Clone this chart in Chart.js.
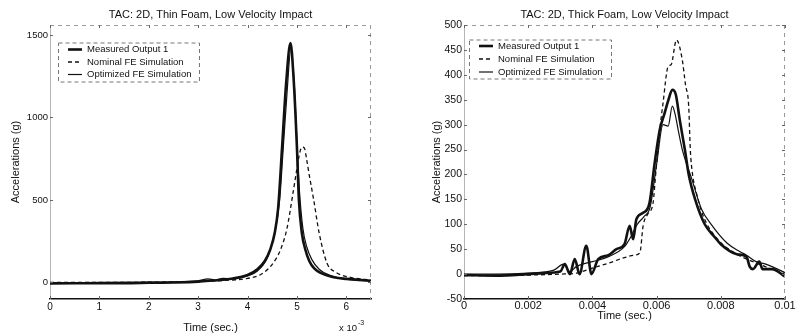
<!DOCTYPE html>
<html>
<head>
<meta charset="utf-8">
<script src="https://cdn.jsdelivr.net/npm/chart.js@4.4.0/dist/chart.umd.min.js"></script>
<style>
  html, body { margin: 0; padding: 0; background: #fff; }
  #wrap { position: relative; width: 796px; height: 336px; }
  .panel { position: absolute; top: 0; width: 398px; height: 336px; }
</style>
</head>
<body>
<div id="wrap">
  <div class="panel" style="left:0"><canvas id="thin"></canvas></div>
  <div class="panel" style="left:398px"><canvas id="thick"></canvas></div>
</div>
<script>
const FONT = "'Liberation Sans', Arial, Helvetica, sans-serif";
const INK = '#111';

// Series names
const seriesNames = ['Measured Output 1', 'Nominal FE Simulation', 'Optimized FE Simulation'];

// Thin foam (left), time in seconds
const thinMeasuredT = [0, 0.0005, 0.001, 0.0015, 0.002, 0.0025, 0.003, 0.0033, 0.0036, 0.004, 0.0042, 0.00435, 0.00446, 0.00455, 0.00462, 0.0047, 0.00478, 0.00487, 0.00493, 0.005, 0.00504, 0.0051, 0.00517, 0.00525, 0.00535, 0.00548, 0.0057, 0.006, 0.0063, 0.0065];
const thinMeasured  = [-6, -5, -4, -4, -2, 0, 5, 12, 20, 45, 80, 130, 200, 300, 450, 820, 1200, 1450, 1250, 820, 500, 300, 200, 130, 85, 58, 35, 22, 15, 10];
const thinNominalT  = [0, 0.001, 0.002, 0.003, 0.0035, 0.004, 0.00426, 0.0045, 0.00467, 0.0048, 0.00493, 0.005, 0.00506, 0.0051, 0.00515, 0.0052, 0.00525, 0.00534, 0.00545, 0.00561, 0.0058, 0.0061, 0.0065];
const thinNominal   = [0, 0, 2, 6, 12, 25, 47, 110, 200, 330, 560, 690, 790, 820, 815, 740, 650, 500, 300, 117, 60, 30, 15];
const thinOptimT    = [0, 0.001, 0.002, 0.0025, 0.003, 0.0032, 0.00335, 0.0035, 0.0037, 0.004, 0.0042, 0.0044, 0.00455, 0.00465, 0.00472, 0.0048, 0.00488, 0.00495, 0.005, 0.00505, 0.00512, 0.0052, 0.0053, 0.00545, 0.0057, 0.006, 0.0065];
const thinOptimized = [0, 0, 2, 4, 10, 22, 15, 25, 22, 40, 70, 150, 300, 500, 800, 1150, 1420, 1180, 850, 560, 330, 215, 140, 80, 40, 20, 8];
const thinXTicks = [0, 0.001, 0.002, 0.003, 0.004, 0.005, 0.006];
const thinYTicks = [0, 500, 1000, 1500];

// Thick foam (right), time in seconds
const thickMeasuredT = [0, 0.001, 0.002, 0.0025, 0.003, 0.00314, 0.0033, 0.00345, 0.0036, 0.00381, 0.00397, 0.00418, 0.0045, 0.00475, 0.005, 0.00516, 0.00527, 0.00537, 0.00558, 0.00578, 0.00594, 0.0061, 0.00625, 0.00637, 0.00649, 0.0066, 0.00672, 0.00688, 0.007, 0.0072, 0.0075, 0.0078, 0.008, 0.0085, 0.0088, 0.0089, 0.009, 0.0092, 0.0093, 0.0096, 0.01];
const thickMeasured  = [-2, -3, 0, 2, 5, 20, 0, 30, 0, 57, 0, 30, 38, 50, 60, 97, 70, 110, 123, 143, 223, 290, 323, 350, 370, 360, 310, 250, 200, 150, 100, 75, 60, 40, 35, 15, 10, 25, 10, 10, -5];
const thickNominalT  = [0, 0.001, 0.002, 0.003, 0.0035, 0.004, 0.0045, 0.005, 0.0053, 0.00548, 0.00558, 0.00572, 0.00589, 0.00597, 0.00604, 0.0061, 0.0062, 0.00636, 0.00645, 0.00662, 0.0068, 0.0069, 0.007, 0.00705, 0.00712, 0.00724, 0.00745, 0.0079, 0.0085, 0.009, 0.0095, 0.01];
const thickNominal   = [-3, -3, -2, 0, 2, 12, 22, 33, 38, 43, 97, 120, 143, 200, 250, 290, 343, 417, 420, 470, 430, 380, 337, 250, 200, 163, 117, 70, 40, 25, 12, 0];
const thickOptimT    = [0, 0.001, 0.002, 0.0028, 0.0031, 0.0033, 0.0035, 0.0038, 0.004, 0.0045, 0.005, 0.0052, 0.0054, 0.0056, 0.0058, 0.006, 0.0062, 0.00636, 0.00649, 0.00658, 0.00667, 0.0068, 0.0071, 0.0074, 0.0077, 0.0082, 0.0086, 0.0088, 0.0091, 0.0094, 0.0097, 0.01];
const thickOptimized = [0, 0, 2, 8, 20, 5, 15, 22, 25, 35, 55, 75, 100, 115, 135, 220, 300, 297, 337, 320, 290, 250, 190, 130, 100, 62, 45, 38, 25, 20, 12, 3];
const thickXTicks = [0, 0.002, 0.004, 0.006, 0.008, 0.01];
const thickXLabels = ['0', '0.002', '0.004', '0.006', '0.008', '0.01'];
const thickYTicks = [-50, 0, 50, 100, 150, 200, 250, 300, 350, 400, 450, 500];

function pts(t, y) {
    return t.map((x, i) => ({ x: x, y: y[i] }));
}

function makeSets(mT, m, nT, n, oT, o) {
    return [
        { label: seriesNames[0], data: pts(mT, m), borderColor: INK, borderWidth: 2.6 },
        { label: seriesNames[1], data: pts(nT, n), borderColor: INK, borderWidth: 1.3, borderDash: [4, 3] },
        { label: seriesNames[2], data: pts(oT, o), borderColor: INK, borderWidth: 1.2 }
    ];
}

// Title centred over the plot area
const areaTitle = {
    id: 'areaTitle',
    afterDraw(chart, args, opts) {
        const ctx = chart.ctx, a = chart.chartArea;
        ctx.save();
        ctx.font = '11px ' + FONT;
        ctx.fillStyle = INK;
        ctx.textAlign = 'center';
        ctx.textBaseline = 'middle';
        ctx.fillText(opts.text, (a.left + a.right) / 2, 14.5);
        ctx.restore();
    }
};

// Box top/right edges and inward tick marks
const frame = {
    id: 'frame',
    afterDatasetsDraw(chart) {
        const ctx = chart.ctx, a = chart.chartArea;
        const xs = chart.scales.x, ys = chart.scales.y;
        ctx.save();
        ctx.strokeStyle = '#9a9a9a';
        ctx.lineWidth = 1;
        ctx.setLineDash([4, 4]);
        ctx.beginPath();
        ctx.moveTo(a.left, a.top + 0.5);
        ctx.lineTo(a.right, a.top + 0.5);
        ctx.moveTo(a.right - 0.5, a.top);
        ctx.lineTo(a.right - 0.5, a.bottom);
        ctx.stroke();
        ctx.setLineDash([]);
        ctx.strokeStyle = '#666';
        ctx.beginPath();
        ys.ticks.forEach(t => {
            const p = Math.round(ys.getPixelForValue(t.value)) + 0.5;
            ctx.moveTo(a.left, p); ctx.lineTo(a.left + 3, p);
            ctx.moveTo(a.right, p); ctx.lineTo(a.right - 3, p);
        });
        xs.ticks.forEach(t => {
            const p = Math.round(xs.getPixelForValue(t.value)) + 0.5;
            ctx.moveTo(p, a.bottom); ctx.lineTo(p, a.bottom - 3);
            ctx.moveTo(p, a.top); ctx.lineTo(p, a.top + 3);
        });
        ctx.stroke();
        ctx.restore();
    }
};

// Legend box inside the plot, top left
const insideLegend = {
    id: 'insideLegend',
    afterDraw(chart, args, opts) {
        const ctx = chart.ctx, a = chart.chartArea;
        const bx = a.left + opts.dx, by = opts.top;
        ctx.save();
        ctx.strokeStyle = '#777';
        ctx.lineWidth = 1;
        ctx.setLineDash([4, 3]);
        ctx.fillStyle = '#fff';
        ctx.fillRect(bx, by, opts.w, opts.h);
        ctx.strokeRect(bx + 0.5, by + 0.5, opts.w, opts.h);
        ctx.font = '9.5px ' + FONT;
        ctx.textBaseline = 'middle';
        ctx.textAlign = 'left';
        chart.data.datasets.forEach((ds, i) => {
            const y = by + opts.first + i * opts.gap;
            ctx.setLineDash(ds.borderDash || []);
            ctx.strokeStyle = INK;
            ctx.lineWidth = ds.borderWidth;
            ctx.beginPath();
            ctx.moveTo(bx + 10, y);
            ctx.lineTo(bx + 24, y);
            ctx.stroke();
            ctx.fillStyle = INK;
            ctx.fillText(ds.label, bx + 29, y);
        });
        ctx.restore();
    }
};

// "x 10^-3" multiplier under the x axis
const expLabel = {
    id: 'expLabel',
    afterDraw(chart, args, opts) {
        if (!opts.show) return;
        const ctx = chart.ctx, a = chart.chartArea;
        ctx.save();
        ctx.fillStyle = INK;
        ctx.textBaseline = 'alphabetic';
        ctx.textAlign = 'left';
        ctx.font = '9.5px ' + FONT;
        const x0 = a.right - 32;
        ctx.fillText('x 10', x0, 331);
        const w = ctx.measureText('x 10').width;
        ctx.font = '7px ' + FONT;
        ctx.fillText('-3', x0 + w + 1, 325);
        ctx.restore();
    }
};

function makeChart(id, c) {
    return new Chart(document.getElementById(id), {
        type: 'line',
        data: { datasets: c.datasets },
        options: {
            responsive: true,
            maintainAspectRatio: false,
            animation: false,
            layout: { padding: { top: 25, right: c.padRight, bottom: 0, left: 0 } },
            elements: {
                point: { radius: 0 },
                line: { cubicInterpolationMode: 'monotone', fill: false }
            },
            plugins: {
                legend: { display: false },
                tooltip: { enabled: false },
                title: { display: false },
                areaTitle: { text: c.title },
                insideLegend: c.legend,
                expLabel: { show: c.exp }
            },
            scales: {
                x: {
                    type: 'linear',
                    min: c.xMin, max: c.xMax,
                    afterBuildTicks: s => { s.ticks = c.xTicks.map(v => ({ value: v })); },
                    afterFit: s => { s.height = 336 - 299; },
                    grid: { display: false, drawTicks: false },
                    border: { display: true, color: INK, width: 1.5 },
                    ticks: {
                        color: INK, padding: c.xTickPad, maxRotation: 0, autoSkip: false,
                        font: { family: FONT, size: c.xTickSize },
                        callback: c.xLabel
                    },
                    title: {
                        display: true, text: 'Time (sec.)', color: INK,
                        font: { family: FONT, size: 11 },
                        padding: { top: 0, bottom: c.xTitlePad }
                    }
                },
                y: {
                    min: c.yMin, max: c.yMax,
                    afterBuildTicks: s => { s.ticks = c.yTicks.map(v => ({ value: v })); },
                    afterFit: s => { s.width = c.yWidth; },
                    grid: { display: false, drawTicks: false },
                    border: { display: true, color: '#b5b5b5', width: 1, dash: [3, 3] },
                    ticks: {
                        color: INK, padding: 2, autoSkip: false,
                        font: { family: FONT, size: c.yTickSize },
                        callback: v => String(v)
                    },
                    title: {
                        display: true, text: 'Accelerations (g)', color: INK,
                        font: { family: FONT, size: 11 },
                        padding: { top: c.yTitlePad, bottom: 0 }
                    }
                }
            }
        },
        plugins: [areaTitle, frame, insideLegend, expLabel]
    });
}

makeChart('thin', {
    title: 'TAC: 2D, Thin Foam, Low Velocity Impact',
    datasets: makeSets(thinMeasuredT, thinMeasured, thinNominalT, thinNominal, thinOptimT, thinOptimized),
    padRight: 27,
    xMin: 0, xMax: 0.0065, xTicks: thinXTicks,
    xLabel: v => String(Math.round(v * 1000)),
    xTickPad: 2.5, xTickSize: 10, xTitlePad: 1.4,
    yMin: -100, yMax: 1560, yTicks: thinYTicks, yWidth: 50, yTickSize: 9.5, yTitlePad: 9,
    legend: { dx: 8, top: 42.5, w: 141, h: 39, first: 7, gap: 12.5 },
    exp: true
});

makeChart('thick', {
    title: 'TAC: 2D, Thick Foam, Low Velocity Impact',
    datasets: makeSets(thickMeasuredT, thickMeasured, thickNominalT, thickNominal, thickOptimT, thickOptimized),
    padRight: 11,
    xMin: 0, xMax: 0.01, xTicks: thickXTicks,
    xLabel: (v, i) => thickXLabels[i],
    xTickPad: 0, xTickSize: 11, xTitlePad: 13.4,
    yMin: -50, yMax: 500, yTicks: thickYTicks, yWidth: 66, yTickSize: 10.5, yTitlePad: 32,
    legend: { dx: 5, top: 39.5, w: 142, h: 39, first: 6.5, gap: 13 },
    exp: false
});
</script>
</body>
</html>
